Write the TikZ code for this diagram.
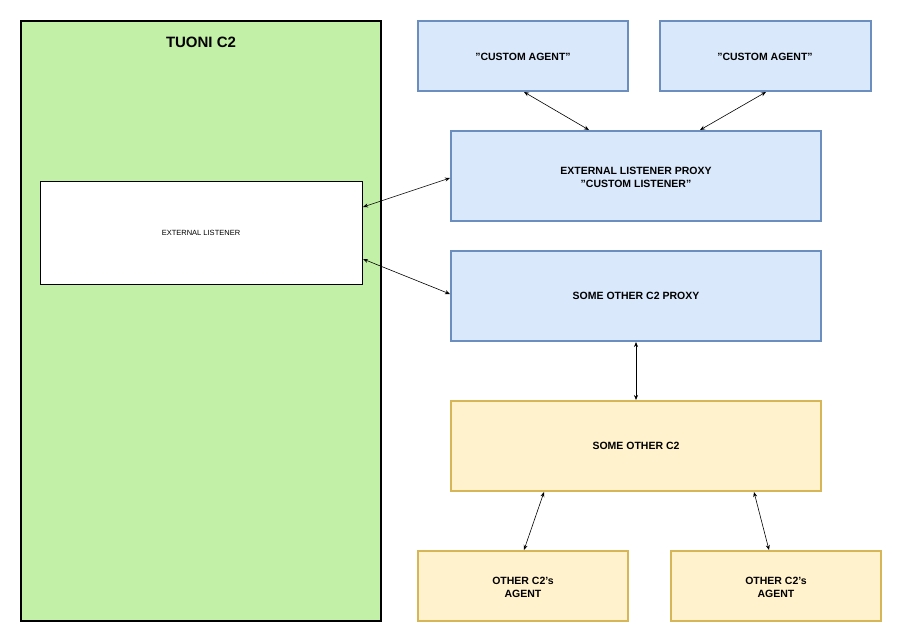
\documentclass[tikz,border=0pt]{standalone}
\usepackage{fontspec}
\setmainfont{Liberation Sans}
\usetikzlibrary{arrows.meta}
\definecolor{gfill}{HTML}{C2F0A6}
\definecolor{bfill}{HTML}{DAE8FC}
\definecolor{bline}{HTML}{6C8EBF}
\definecolor{yfill}{HTML}{FFF2CC}
\definecolor{yline}{HTML}{D6B656}
\begin{document}
\begin{tikzpicture}[x=1pt,y=-1pt,
 bluebox/.style={draw=bline,fill=bfill,line width=1.2pt},
 yelbox/.style={draw=yline,fill=yfill,line width=1.2pt},
 lbl/.style={font=\fontsize{10.5}{13}\selectfont\bfseries,align=center},
 conn/.style={{Stealth[length=5pt,width=4pt]}-{Stealth[length=5pt,width=4pt]},line width=0.6pt}]
\useasboundingbox (0,0) rectangle (902,642);
\draw[fill=gfill,line width=1.2pt] (21,21) rectangle (381,621);
\node[font=\fontsize{15}{18}\selectfont\bfseries] (title) at (201,42) {TUONI C2};
\draw[fill=white,line width=0.6pt] (40,181) rectangle (362,284);
\node[font=\fontsize{7.5}{9}\selectfont] (el) at (201,233) {EXTERNAL LISTENER};
\draw[bluebox] (418,21) rectangle (628,91);
\node[lbl] (ca1) at (523,57) {"CUSTOM AGENT"};
\draw[bluebox] (660,21) rectangle (871,91);
\node[lbl] (ca2) at (765,57) {"CUSTOM AGENT"};
\draw[bluebox] (451,131) rectangle (821,221);
\node[lbl] (elp) at (636,177) {EXTERNAL LISTENER PROXY\\"CUSTOM LISTENER"};
\draw[bluebox] (451,251) rectangle (821,341);
\node[lbl] (scp) at (636,296) {SOME OTHER C2 PROXY};
\draw[yelbox] (451,401) rectangle (821,491);
\node[lbl] (soc) at (636,446) {SOME OTHER C2};
\draw[yelbox] (418,551) rectangle (628,621);
\node[lbl] (oa1) at (523,587) {OTHER C2's\\AGENT};
\draw[yelbox] (671,551) rectangle (881,621);
\node[lbl] (oa2) at (776,587) {OTHER C2's\\AGENT};
\coordinate (p1) at (524,92); \coordinate (q1) at (589,130);
\coordinate (p2) at (766,92); \coordinate (q2) at (700,130);
\coordinate (p3) at (363,207); \coordinate (q3) at (450,178);
\coordinate (p4) at (363,259); \coordinate (q4) at (450,294);
\coordinate (p5) at (636,342); \coordinate (q5) at (636,400);
\coordinate (p6) at (544,492); \coordinate (q6) at (524,550);
\coordinate (p7) at (754,492); \coordinate (q7) at (769,550);
\foreach \i in {1,...,7} \draw[conn] (p\i) -- (q\i);
\end{tikzpicture}
\end{document}
